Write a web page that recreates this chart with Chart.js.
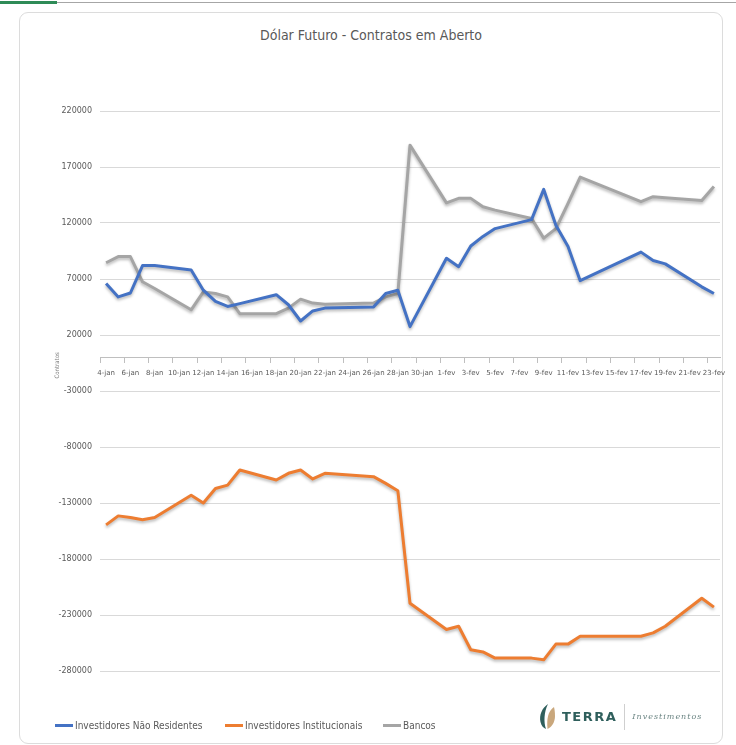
<!DOCTYPE html>
<html>
<head>
<meta charset="utf-8">
<script src="https://cdn.jsdelivr.net/npm/chart.js@4.4.1/dist/chart.umd.min.js"></script>
<style>
  html, body { margin: 0; padding: 0; background: #fff; }
  body { width: 736px; height: 745px; position: relative; overflow: hidden;
         font-family: "DejaVu Sans", sans-serif; font-stretch: condensed; }
  .topline { position: absolute; left: 0; top: 2px; width: 736px; height: 1px; background: #a6a6a6; }
  .topline-green { position: absolute; left: 0; top: 1px; width: 57px; height: 3px; background: #2e8b57; }
  .card { position: absolute; left: 19px; top: 12px; width: 702px; height: 730px;
          border: 1px solid #dcdcdc; border-radius: 9px; }
  .title { position: absolute; left: 19px; width: 704px; top: 27px; text-align: center;
           font-size: 14px; color: #595959; }
  #chart { position: absolute; left: 0; top: 0; }
  .legend-item { position: absolute; top: 717px; height: 16px; display: flex; align-items: center;
                 font-size: 10px; color: #595959; white-space: nowrap; }
  .legend-item span.swatch { display: inline-block; width: 18px; height: 3px; margin-right: 2px; }
  .logo { position: absolute; left: 538px; top: 703px; display: flex; align-items: center; font-stretch: normal; }
  .logo .terra { font-family: "DejaVu Sans", sans-serif; font-weight: bold; font-size: 13px;
                 color: #2f5f5c; letter-spacing: 1.5px; margin-left: 6px; }
  .logo .sep { width: 1px; height: 26px; background: #cfcfcf; margin: 0 7px 0 7px; }
  .logo .inv { font-family: "DejaVu Serif", serif; font-style: italic; font-size: 8px;
               color: #6b8583; letter-spacing: 1px; }
</style>
</head>
<body>
<div class="topline"></div>
<div class="topline-green"></div>
<div class="card"></div>
<div class="title">Dólar Futuro - Contratos em Aberto</div>
<canvas id="chart" width="736" height="745"></canvas>
<div id="legend"></div>
<div class="logo">
  <svg width="18" height="27" viewBox="0 0 18 27">
    <path d="M10 1 C4 5 1 12 2.5 19 C3.5 23 5.5 25 8 26 C5.5 19 6 9 10 1Z" fill="#2f5f5c"/>
    <path d="M16 4 C10 8 8.5 16 9.5 26 C14 24 17 19 17 13 C17 9 16.5 6 16 4Z" fill="#c9a77c"/>
  </svg>
  <span class="terra">TERRA</span>
  <span class="sep"></span>
  <span class="inv">Investimentos</span>
</div>

<script>
// ---- data ----
const calendarDays = [
  '4-jan', '5-jan', '6-jan', '7-jan', '8-jan', '9-jan', '10-jan', '11-jan', '12-jan', '13-jan',
  '14-jan', '15-jan', '16-jan', '17-jan', '18-jan', '19-jan', '20-jan', '21-jan', '22-jan', '23-jan',
  '24-jan', '25-jan', '26-jan', '27-jan', '28-jan', '29-jan', '30-jan', '31-jan',
  '1-fev', '2-fev', '3-fev', '4-fev', '5-fev', '6-fev', '7-fev', '8-fev', '9-fev', '10-fev',
  '11-fev', '12-fev', '13-fev', '14-fev', '15-fev', '16-fev', '17-fev', '18-fev', '19-fev', '20-fev',
  '21-fev', '22-fev', '23-fev'
];

const tradingDays = [
  '4-jan', '5-jan', '6-jan', '7-jan', '8-jan', '11-jan', '12-jan', '13-jan', '14-jan', '15-jan',
  '18-jan', '19-jan', '20-jan', '21-jan', '22-jan', '26-jan', '27-jan', '28-jan', '29-jan',
  '1-fev', '2-fev', '3-fev', '4-fev', '5-fev', '8-fev', '9-fev', '10-fev', '11-fev', '12-fev',
  '17-fev', '18-fev', '19-fev', '22-fev', '23-fev'
];

const naoResidentes = [
  66000, 54000, 57500, 82000, 82000, 78000, 60000, 50000, 45500, 48000,
  56000, 47000, 32500, 41500, 44000, 45000, 57000, 60000, 27500,
  88500, 81000, 99500, 108000, 115000, 123000, 150000, 118000, 99000, 68500,
  94000, 86500, 83500, 63000, 57000
];

const institucionais = [
  -149500, -141500, -143000, -145000, -143000, -123000, -130000, -117000, -114000, -100500,
  -109500, -103500, -100500, -108500, -103500, -106500, -112500, -119000, -219500,
  -243000, -240000, -261000, -263000, -268500, -268500, -270000, -256000, -256000, -249000,
  -249000, -246000, -240000, -215000, -223000
];

const bancos = [
  84500, 90000, 90000, 67500, 61500, 42500, 58500, 57000, 54000, 39000,
  39000, 44000, 52000, 48500, 47500, 48500, 54000, 57000, 189500,
  138000, 142000, 142000, 134500, 131500, 124000, 106500, 115000, 137500, 161000,
  139000, 143500, 142500, 140000, 152500
];

const yTicks = [-280000, -230000, -180000, -130000, -80000, -30000, 20000, 70000, 120000, 170000, 220000];
const seriesNames = ['Investidores Não Residentes', 'Investidores Institucionais', 'Bancos'];
const seriesColors = ['#4472c4', '#ed7d31', '#a5a5a5'];
const yTitle = 'Contratos';

// ---- chart ----
const FONT = '"DejaVu Sans", sans-serif';
const TEXT = '#595959';

function toPoints(values) {
  return values.map((v, i) => ({ x: tradingDays[i], y: v }));
}

const shadowPlugin = {
  id: 'lineShadow',
  beforeDatasetDraw(chart) {
    const ctx = chart.ctx;
    ctx.save();
    ctx.shadowColor = 'rgba(0,0,0,0.28)';
    ctx.shadowBlur = 3;
    ctx.shadowOffsetY = 2;
  },
  afterDatasetDraw(chart) {
    chart.ctx.restore();
  },
};

const axisTitlePlugin = {
  id: 'axisTitle',
  afterDraw(chart) {
    const { ctx, scales: { y } } = chart;
    ctx.save();
    ctx.translate(57, y.getPixelForValue(0) + 8);
    ctx.rotate(-Math.PI / 2);
    ctx.font = 'condensed 6px ' + FONT;
    ctx.fillStyle = '#7f7f7f';
    ctx.textAlign = 'center';
    ctx.textBaseline = 'middle';
    ctx.fillText(yTitle, 0, 0);
    ctx.restore();
  },
};

const allSeries = [naoResidentes, institucionais, bancos];

new Chart(document.getElementById('chart').getContext('2d'), {
  type: 'line',
  data: {
    labels: calendarDays,
    datasets: allSeries.map((vals, i) => ({
      label: seriesNames[i],
      data: toPoints(vals),
      borderColor: seriesColors[i],
      backgroundColor: seriesColors[i],
      borderWidth: 3,
      pointRadius: 0,
      tension: 0,
      fill: false,
      borderJoinStyle: 'round',
    })),
  },
  options: {
    responsive: false,
    animation: false,
    devicePixelRatio: 1,
    layout: { padding: { left: 0, right: 16, top: 111, bottom: 74 } },
    plugins: { legend: { display: false }, tooltip: { enabled: false } },
    scales: {
      x: {
        type: 'category',
        offset: true,
        position: { y: 0 },
        grid: {
          drawOnChartArea: false,
          offset: true,
          tickLength: 5,
          tickColor: c => (c.index % 2 === 0 ? '#bfbfbf' : 'rgba(0,0,0,0)'),
        },
        border: { color: '#bfbfbf', width: 1 },
        ticks: {
          autoSkip: false,
          maxRotation: 0,
          minRotation: 0,
          padding: 7,
          color: TEXT,
          font: { size: 7, style: 'condensed', family: FONT },
          callback: function (v, i) { return i % 2 === 0 ? this.getLabelForValue(v) : ''; },
        },
      },
      y: {
        min: -280000,
        max: 220000,
        afterBuildTicks: axis => { axis.ticks = yTicks.map(v => ({ value: v })); },
        afterFit: axis => { axis.width = 100; },
        grid: { color: '#d9d9d9', drawTicks: false },
        border: { display: false },
        ticks: {
          padding: 8,
          color: TEXT,
          font: { size: 8, style: 'condensed', family: FONT },
          callback: v => String(v),
        },
      },
    },
  },
  plugins: [shadowPlugin, axisTitlePlugin],
});

// legend
const legendX = [55, 225, 383];
const legendEl = document.getElementById('legend');
seriesNames.forEach((name, i) => {
  const item = document.createElement('div');
  item.className = 'legend-item';
  item.style.left = legendX[i] + 'px';
  item.innerHTML = '<span class="swatch" style="background:' + seriesColors[i] + '"></span>' + name;
  legendEl.appendChild(item);
});
</script>
</body>
</html>
